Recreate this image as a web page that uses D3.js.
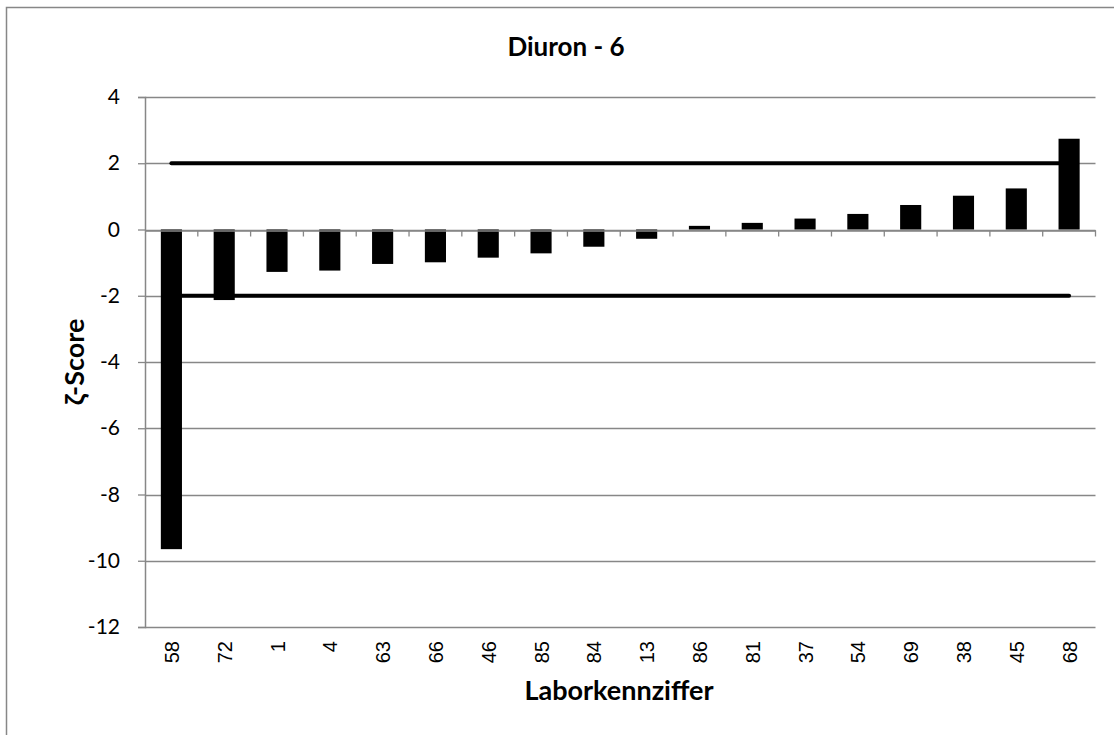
<!DOCTYPE html>
<html><head><meta charset="utf-8">
<script src="https://cdn.jsdelivr.net/npm/d3@7"></script>
<style>html,body{margin:0;padding:0;background:#fff;}</style>
</head><body>
<svg id="c" width="1114" height="735"></svg>
<script>
const categories = ["58","72","1","4","63","66","46","85","84","13","86","81","37","54","69","38","45","68"];
const zScores = [-9.65,-2.13,-1.28,-1.24,-1.04,-0.99,-0.85,-0.72,-0.52,-0.28,0.11,0.20,0.33,0.47,0.74,1.02,1.24,2.74];
const upperLimit = 2;
const lowerLimit = -2;
const yTicks = [4,2,0,-2,-4,-6,-8,-10,-12];
const title = "Diuron - 6";
const xTitle = "Laborkennziffer";
const yTitle = "ζ-Score";

const svg = d3.select("#c");
const L = 145, R = 1095.5, T = 97, B = 627;
const gray = "#878787";

svg.append("rect").attr("x",6.5).attr("y",7.5).attr("width",1120).attr("height",740)
  .attr("fill","none").attr("stroke",gray).attr("stroke-width",1.5);

const x = d3.scaleBand().domain(categories).range([L,R]).paddingInner(0.6).paddingOuter(0.3);
const xc = d3.scaleBand().domain(categories).range([L,R]);
const y = d3.scaleLinear().domain([-12,4]).range([B,T]);

// gridlines
svg.append("g").selectAll("line").data(yTicks).join("line")
  .attr("x1",L).attr("x2",R).attr("y1",d=>Math.round(y(d))+0.5).attr("y2",d=>Math.round(y(d))+0.5)
  .attr("stroke",gray).attr("stroke-width",1.3);

// y axis
const yAxis = svg.append("g").attr("transform",`translate(${L},0)`)
  .call(d3.axisLeft(y).tickValues(yTicks).tickSize(7).tickPadding(18).tickFormat(d=>d));
yAxis.select(".domain").attr("stroke",gray).attr("stroke-width",1.5);
yAxis.selectAll(".tick line").attr("stroke",gray).attr("stroke-width",1.3);
yAxis.selectAll("text").attr("font-family","Lato, 'Open Sans', sans-serif").attr("font-size",21).attr("fill","#000");

// limit lines
const lineGen = d3.line().x(d=>xc(d[0])+xc.bandwidth()/2).y(d=>y(d[1]));
[upperLimit, lowerLimit].forEach(v=>{
  svg.append("path").datum([[categories[0],v],[categories[categories.length-1],v]])
    .attr("d",lineGen).attr("stroke","#000").attr("stroke-width",4).attr("stroke-linecap","round").attr("fill","none");
});

// bars
svg.append("g").selectAll("rect").data(categories).join("rect")
  .attr("x",d=>x(d)).attr("width",x.bandwidth())
  .attr("y",(d,i)=>y(Math.max(0,zScores[i])))
  .attr("height",(d,i)=>Math.abs(y(zScores[i])-y(0)))
  .attr("fill","#000");

// category axis at zero
const y0 = Math.round(y(0))+0.5;
const xAxis = svg.append("g").attr("transform",`translate(0,${y0})`)
  .call(d3.axisBottom(xc).tickSize(0).tickFormat(""));
xAxis.select(".domain").attr("stroke",gray).attr("stroke-width",1.5);
svg.append("g").selectAll("line").data(categories).join("line")
  .attr("x1",d=>xc(d)+xc.bandwidth()).attr("x2",d=>xc(d)+xc.bandwidth())
  .attr("y1",y0).attr("y2",y0+6).attr("stroke",gray).attr("stroke-width",1.3);

// category labels at bottom
svg.append("g").selectAll("text").data(categories).join("text")
  .attr("transform",d=>`translate(${xc(d)+xc.bandwidth()/2+7.5},641) rotate(-90)`)
  .attr("text-anchor","end")
  .attr("font-family","'Liberation Sans', Arial, sans-serif").attr("font-size",20)
  .text(d=>d);

// titles
const tf = "Lato, 'Open Sans', sans-serif";
svg.append("text").attr("x",566).attr("y",56).attr("text-anchor","middle")
  .attr("font-family",tf).attr("font-weight","bold").attr("font-size",26).text(title);
svg.append("text").attr("x",619).attr("y",700).attr("text-anchor","middle")
  .attr("font-family",tf).attr("font-weight","bold").attr("font-size",27).text(xTitle);
svg.append("text").attr("transform","translate(84,362) rotate(-90)").attr("text-anchor","middle")
  .attr("font-family",tf).attr("font-weight","bold").attr("font-size",27).text(yTitle);
</script>
</body></html>
